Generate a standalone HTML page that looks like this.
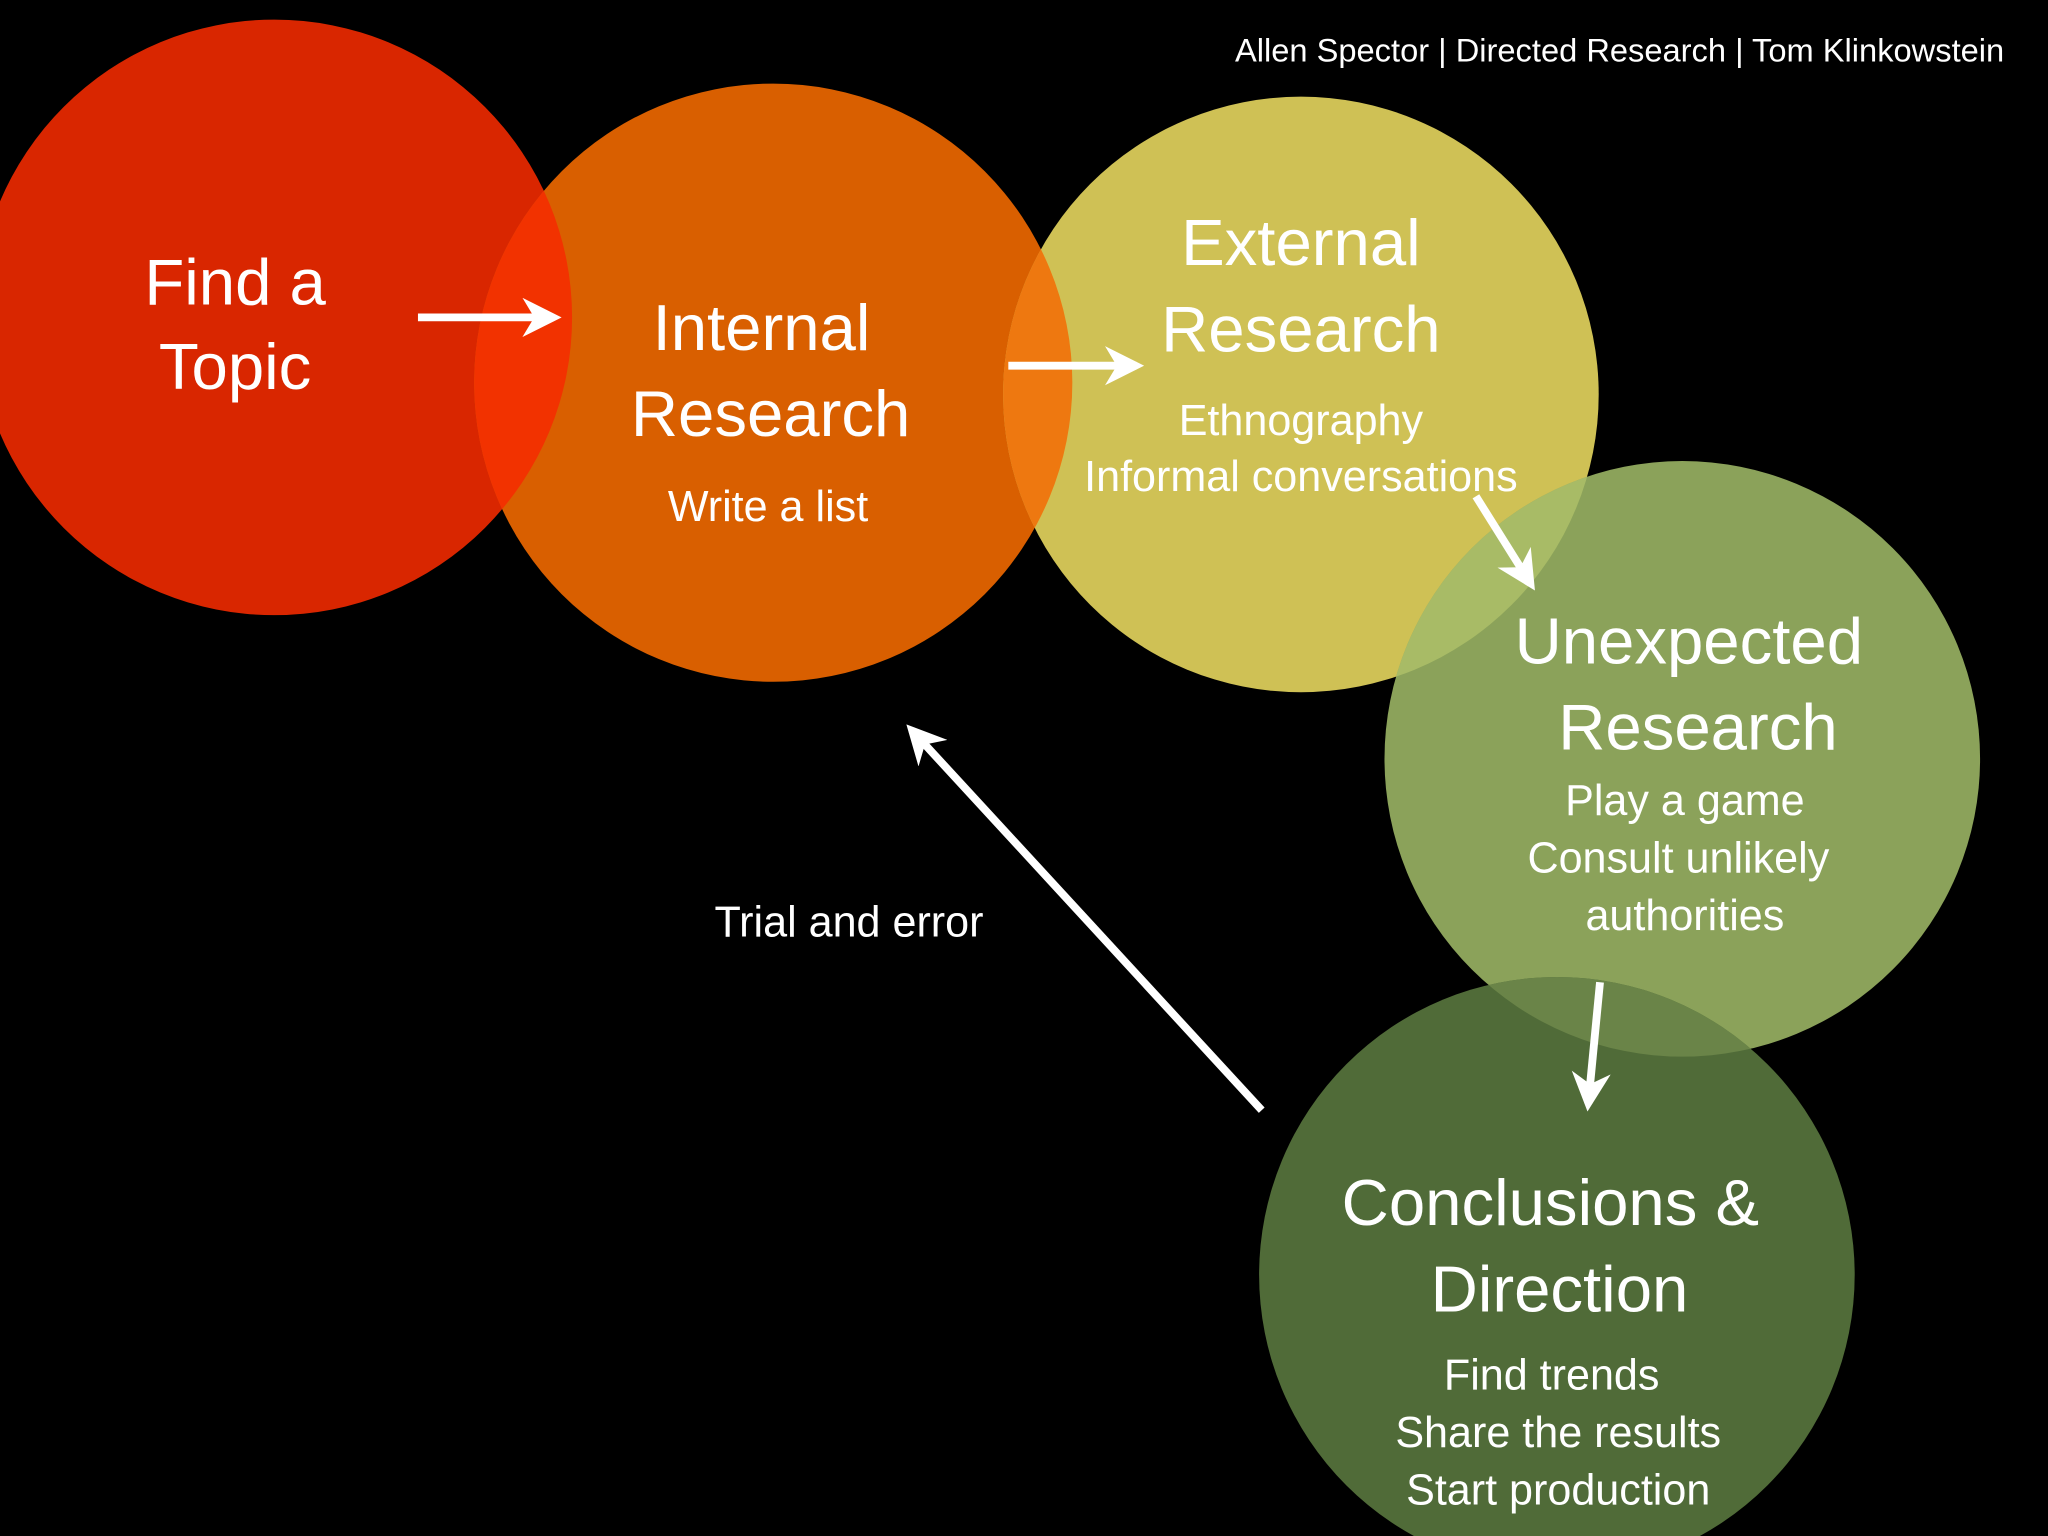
<!DOCTYPE html>
<html><head><meta charset="utf-8"><style>
html,body{margin:0;padding:0;background:#000;}
svg{display:block;}
text{font-family:"Liberation Sans",sans-serif;fill:#fff;text-anchor:middle;}
</style></head><body>
<svg width="2048" height="1536" viewBox="0 0 1568 1176" xmlns="http://www.w3.org/2000/svg">
<defs>
<clipPath id="c1"><circle cx="210" cy="243" r="228"/></clipPath>
<clipPath id="c2"><circle cx="592" cy="293" r="229"/></clipPath>
<clipPath id="c3"><circle cx="996" cy="302" r="228"/></clipPath>
<clipPath id="c4"><circle cx="1288" cy="581" r="228"/></clipPath>
<marker id="ah" viewBox="0 0 10 10" refX="8" refY="5" markerWidth="5" markerHeight="5" orient="auto" markerUnits="strokeWidth">
<path d="M0,0 L10,5 L0,10 L3,5 Z" fill="#fff"/></marker>
</defs>
<rect width="1568" height="1176" fill="#000"/>
<circle cx="210" cy="243" r="228" fill="#d92600"/>
<circle cx="592" cy="293" r="229" fill="#d95f00"/>
<circle cx="996" cy="302" r="228" fill="#cfc155"/>
<circle cx="1288" cy="581" r="228" fill="#8ba25a"/>
<circle cx="1192" cy="976" r="228" fill="#506b38"/>
<circle cx="592" cy="293" r="229" fill="#f23200" clip-path="url(#c1)"/>
<circle cx="996" cy="302" r="228" fill="#ee7810" clip-path="url(#c2)"/>
<circle cx="1288" cy="581" r="228" fill="#a8bb66" clip-path="url(#c3)"/>
<circle cx="1192" cy="976" r="228" fill="#6a8448" clip-path="url(#c4)"/>

<text x="1240" y="47" font-size="25">Allen Spector | Directed Research | Tom Klinkowstein</text>

<text x="180" y="233" font-size="50">Find a</text>
<text x="180" y="298" font-size="50">Topic</text>

<text x="583" y="268" font-size="50">Internal</text>
<text x="590" y="334" font-size="50">Research</text>
<text x="588" y="399" font-size="33">Write a list</text>

<text x="996" y="203" font-size="50">External</text>
<text x="996" y="269" font-size="50">Research</text>
<text x="996" y="333" font-size="33">Ethnography</text>
<text x="996" y="376" font-size="33">Informal conversations</text>

<text x="1293" y="508" font-size="50">Unexpected</text>
<text x="1300" y="574" font-size="50">Research</text>
<text x="1290" y="624" font-size="33">Play a game</text>
<text x="1285" y="668" font-size="33">Consult unlikely</text>
<text x="1290" y="712" font-size="33">authorities</text>

<text x="1187" y="938" font-size="50">Conclusions &amp;</text>
<text x="1194" y="1004" font-size="50">Direction</text>
<text x="1188" y="1064" font-size="33">Find trends</text>
<text x="1193" y="1108" font-size="33">Share the results</text>
<text x="1193" y="1152" font-size="33">Start production</text>

<text x="650" y="717" font-size="33">Trial and error</text>

<g stroke="#fff" stroke-width="6" fill="none">
<line x1="320" y1="243" x2="424" y2="243" marker-end="url(#ah)"/>
<line x1="772" y1="280" x2="870" y2="280" marker-end="url(#ah)"/>
<line x1="1130" y1="380" x2="1172" y2="447" marker-end="url(#ah)"/>
<line x1="1225" y1="752" x2="1216" y2="845" marker-end="url(#ah)"/>
<line x1="966" y1="850" x2="698" y2="559" marker-end="url(#ah)"/>
</g>
</svg>
</body></html>
